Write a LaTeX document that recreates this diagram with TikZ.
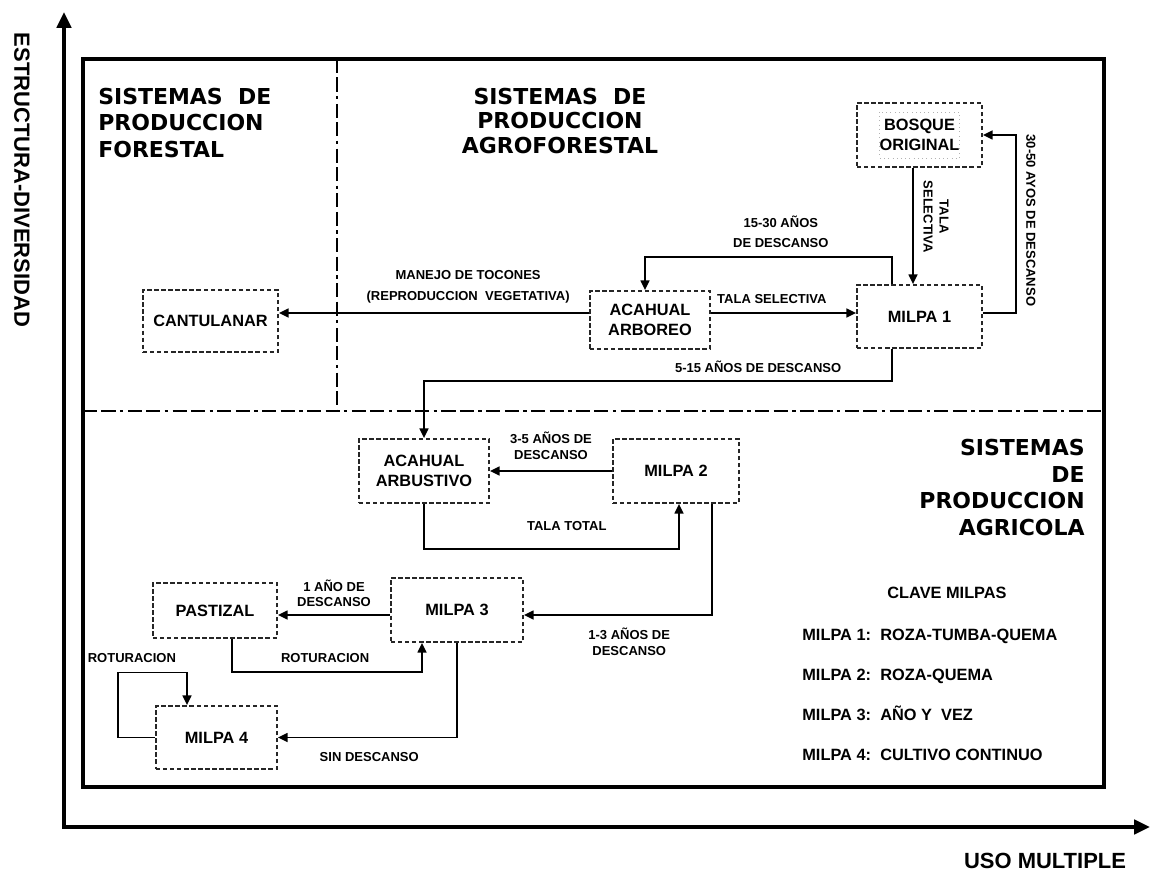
\documentclass[tikz,border=0pt]{standalone}
\usepackage{fontspec}
\setmainfont{Liberation Sans}
\newfontfamily\titulofont{DejaVu Sans}
\usetikzlibrary{arrows.meta}

\begin{document}
\begin{tikzpicture}[
  caja/.style={draw=black!85, line width=1pt, dash pattern=on 2.5pt off 1.5pt,
    align=center, inner sep=0pt, font=\fontsize{9.3}{11.2}\selectfont\bfseries},
  flecha/.style={line width=1pt, -{Triangle[length=5.5pt,width=5pt]}},
  etiqueta/.style={font=\fontsize{7.4}{9}\selectfont\bfseries, align=center, inner sep=1pt},
  titulo/.style={font=\titulofont\bfseries\fontsize{12.5}{15}\selectfont, inner sep=0pt},
  clave/.style={anchor=base west, inner sep=0pt, font=\fontsize{9.3}{11}\selectfont\bfseries},
  ejes/.style={line width=2.3pt, line join=miter,
    {Triangle[length=9pt,width=8pt]}-{Triangle[length=9pt,width=8pt]}},
  division/.style={line width=1.7pt,
    dash pattern=on 8pt off 2.5pt on 8pt off 2.5pt on 2pt off 2.5pt}
]
\useasboundingbox (0,0) rectangle (23.04,-17.44);

% ejes
\coordinate (o) at (1.28,-16.54);
\coordinate (ytop) at (1.28,-0.24);
\coordinate (xfin) at (23.0,-16.54);
\draw[ejes] (ytop) -- (o) -- (xfin);
\path (0.44,-3.60) node[rotate=-90, font=\fontsize{12.5}{15}\selectfont\bfseries] (yeje) {ESTRUCTURA-DIVERSIDAD};
\path (20.9,-17.22) node[font=\fontsize{12.5}{15}\selectfont\bfseries] (xeje) {USO MULTIPLE};

% marco y divisiones
\draw[line width=2pt] (1.66,-1.18) rectangle (22.08,-15.74);
\draw[division] (6.74,-1.18) -- (6.74,-8.22);
\draw[division] (1.66,-8.22) -- (22.08,-8.22);

\path (1.96,-2.46) node[titulo, anchor=west, align=left] (forestal) {SISTEMAS~~DE\\PRODUCCION\\FORESTAL};
\path (11.2,-2.42) node[titulo, align=center, font=\titulofont\bfseries\fontsize{12.5}{14}\selectfont] (agroforestal) {SISTEMAS~~DE\\PRODUCCION\\AGROFORESTAL};
\path (21.70,-9.75) node[titulo, anchor=east, align=right] (agricola) {SISTEMAS\\DE\\PRODUCCION\\AGRICOLA};

% cajas
\path (4.21,-6.42) node[caja, minimum width=2.70cm, minimum height=1.24cm] (cantulanar) {CANTULANAR};
\path (13.0,-6.40) node[caja, minimum width=2.40cm, minimum height=1.16cm] (arboreo) {ACAHUAL\\ARBOREO};
\path (18.39,-2.70) node[caja, minimum width=2.50cm, minimum height=1.28cm] (bosque) {BOSQUE\\ORIGINAL};
\draw[black!30, dotted] ([shift={(-0.8,0.46)}]bosque.center) rectangle ([shift={(0.8,-0.46)}]bosque.center);
\path (18.39,-6.33) node[caja, minimum width=2.50cm, minimum height=1.26cm] (milpa1) {MILPA 1};
\path (8.48,-9.42) node[caja, minimum width=2.60cm, minimum height=1.28cm] (arbustivo) {ACAHUAL\\ARBUSTIVO};
\path (13.52,-9.42) node[caja, minimum width=2.52cm, minimum height=1.28cm] (milpa2) {MILPA 2};
\path (9.14,-12.20) node[caja, minimum width=2.64cm, minimum height=1.28cm] (milpa3) {MILPA 3};
\path (4.30,-12.21) node[caja, minimum width=2.48cm, minimum height=1.10cm] (pastizal) {PASTIZAL};
\path (4.33,-14.75) node[caja, minimum width=2.42cm, minimum height=1.26cm] (milpa4) {MILPA 4};

\coordinate (r1) at (0,-6.26);
\coordinate (r3) at (0,-12.30);

% flechas
\draw[flecha] (arboreo.west |- r1) -- node[etiqueta, pos=0.39, above=4pt] {MANEJO DE TOCONES\\[3pt](REPRODUCCION~~VEGETATIVA)} (cantulanar.east |- r1);
\draw[flecha] (arboreo.east |- r1) -- node[etiqueta, pos=0.42, above=4pt] {TALA SELECTIVA} (milpa1.west |- r1);
\draw[flecha] ([xshift=-0.55cm]milpa1.north) -- ++(0,0.54) -| node[etiqueta, pos=0.225, above=4pt] {15-30 AÑOS\\[2pt]DE DESCANSO} ([xshift=-0.1cm]arboreo.north);
\draw[flecha] ([xshift=-0.13cm]bosque.south) -- node[etiqueta, pos=0.42, xshift=0.46cm, rotate=-90] {TALA\\SELECTIVA} ([xshift=-0.13cm]milpa1.north);
\draw[flecha] (milpa1.east |- r1) -- ++(0.66,0) |- node[etiqueta, pos=0.26, xshift=0.3cm, rotate=-90] {30-50 AYOS DE DESCANSO} (bosque.east);
\draw[flecha] ([xshift=-0.55cm]milpa1.south) -- ++(0,-0.64) -| node[etiqueta, pos=0.143, above=3pt] {5-15 AÑOS DE DESCANSO} (arbustivo.north);

\draw[flecha] (milpa2.west) -- node[etiqueta, pos=0.5, above=5pt] {3-5 AÑOS DE\\DESCANSO} (arbustivo.east);
\draw[flecha] (arbustivo.south) -- ++(0,-0.9) -| node[etiqueta, pos=0.28, above=9pt] {TALA TOTAL} ([xshift=0.06cm]milpa2.south);
\draw[flecha] ([xshift=0.72cm]milpa2.south) |- node[etiqueta, pos=0.72, below=6pt] {1-3 AÑOS DE\\DESCANSO} (milpa3.east |- r3);

\draw[flecha] (milpa3.west |- r3) -- node[etiqueta, above=3pt] {1 AÑO DE\\DESCANSO} (pastizal.east |- r3);
\draw[flecha] ([xshift=0.34cm]pastizal.south) -- ++(0,-0.66) -| node[etiqueta, pos=0.245, above=3.5pt] {ROTURACION} ([xshift=-0.7cm]milpa3.south);
\draw[flecha] (milpa3.south) |- node[etiqueta, pos=0.745, below=7pt] {SIN DESCANSO} (milpa4.east);
\draw[flecha] (milpa4.west) -| ++(-0.74,1.3) -| node[etiqueta, pos=0.1, above=4pt] {ROTURACION} ([xshift=-0.59cm]milpa4.north);

% clave
\path (18.94,-11.86) node[font=\fontsize{9.3}{11}\selectfont\bfseries] (clave) {CLAVE MILPAS};
\foreach \i/\desc in {1/ROZA-TUMBA-QUEMA, 2/ROZA-QUEMA, 3/AÑO Y~~VEZ, 4/CULTIVO CONTINUO}
{
  \path (16.04,-12.0-0.8*\i) node[clave] (leyenda\i) {MILPA \i:};
  \path (17.6,-12.0-0.8*\i) node[clave] (tipo\i) {\desc};
}
\end{tikzpicture}
\end{document}
